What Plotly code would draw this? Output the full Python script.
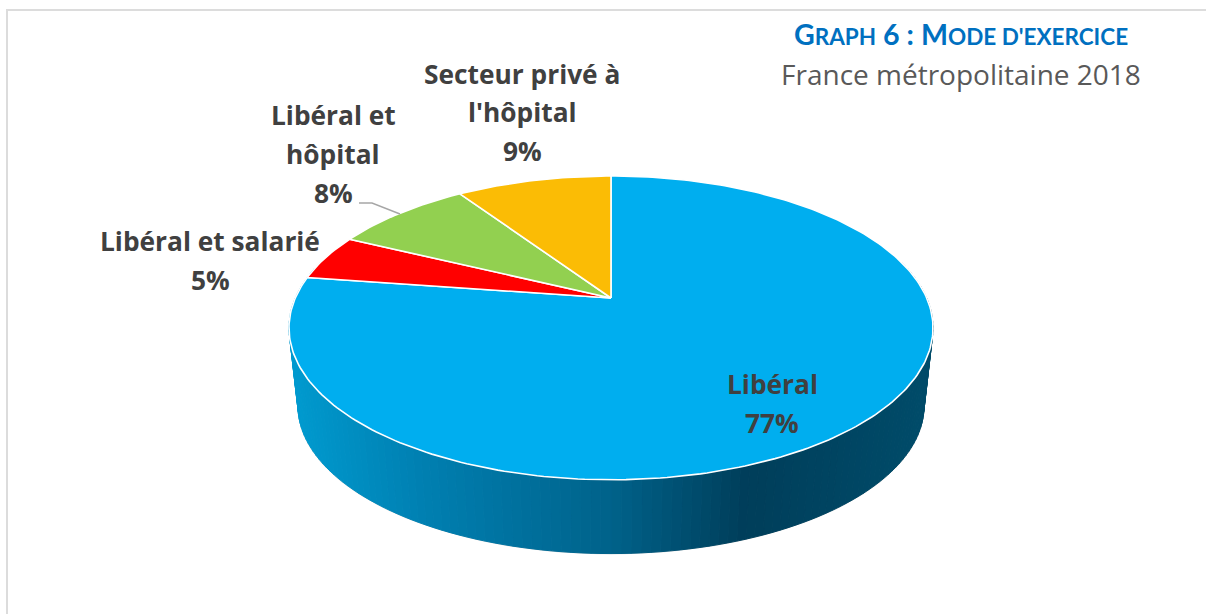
import numpy as np
import plotly.graph_objects as go

# ---- data ----
categories = ["Libéral", "Libéral et salarié", "Libéral et hôpital", "Secteur privé à l'hôpital"]
values = [77.3, 4.9, 8.4, 9.4]
slice_colors = ["#00AEEF", "#FF0000", "#92D050", "#FBBC05"]
title_text = "G<span style='font-size:22.5px'>RAPH</span> 6 : M<span style='font-size:22.5px'>ODE D'EXERCICE</span>"
subtitle_text = "France métropolitaine 2018"

# ---- projection of the tilted disc onto the page ----
CX, APEX_Y = 611.0, 298.0
A, B, K = 315.7, 146.0, 0.197
DEPTH_SCALE, DEPTH_SHIFT = 0.972, 78.0
ELL_Y = 328.0


def project(angle_deg, lower=False):
    a = np.radians(angle_deg)
    u, v = np.sin(a), np.cos(a)
    d = 1 + K * v
    x = CX + A * u / d
    y = APEX_Y - B * v / d
    if lower:
        x = CX + (x - CX) * DEPTH_SCALE
        y = ELL_Y + (y - ELL_Y) * DEPTH_SCALE + DEPTH_SHIFT
    return x, y


GRAD_STOPS = [(289, (0, 155, 208)), (420, (0, 128, 178)), (611, (0, 98, 138)),
              (745, (0, 62, 90)), (933, (0, 76, 106))]


def side_color(x):
    xs = [s[0] for s in GRAD_STOPS]
    rgb = [np.interp(x, xs, [s[1][i] for s in GRAD_STOPS]) for i in range(3)]
    return "rgb({:.0f},{:.0f},{:.0f})".format(*rgb)


fig = go.Figure()


def poly(xs, ys, fill, line_color=None, width=1.0, closed=True):
    fig.add_trace(go.Scatter(
        x=xs, y=ys, mode="lines", fill="toself" if closed else None,
        fillcolor=fill, line=dict(color=line_color or fill, width=width),
        hoverinfo="skip", showlegend=False))


# faint outer rim of the body
ring = np.arange(0, 361, 2.0)
bx, by = project(ring, lower=True)
poly(bx.tolist(), by.tolist(), "#DADADA", "#DADADA", 1.6)

# side wall, built as thin facets between the upper and lower rim
edges = np.arange(75, 285.01, 1.5)
for a0, a1 in zip(edges[:-1], edges[1:]):
    x0, y0 = project(a0)
    x1, y1 = project(a1)
    x2, y2 = project(a1, lower=True)
    x3, y3 = project(a0, lower=True)
    poly([x0, x1, x2, x3, x0], [y0, y1, y2, y3, y0], side_color((x0 + x1 + x2 + x3) / 4), width=1.0)

# top face, one wedge per value
total = sum(values)
start = 0.0
for val, col in zip(values, slice_colors):
    sweep = val / total * 360
    arc = np.linspace(start, start + sweep, max(int(sweep), 12))
    ax, ay = project(arc)
    xs = [CX] + ax.tolist() + [CX]
    ys = [APEX_Y] + ay.tolist() + [APEX_Y]
    poly(xs, ys, col, "#FFFFFF", 1.6)
    start += sweep

# leader line for the "Libéral et hôpital" label
fig.add_trace(go.Scatter(x=[359, 372, 400], y=[203, 203, 214], mode="lines",
                         line=dict(color="#A6A6A6", width=1.4), hoverinfo="skip", showlegend=False))

LABEL_FONT = dict(family="Open Sans", size=26.3, color="#404040")
pct = [f"{round(v)}%" for v in values]


def label(x, y, text, font=LABEL_FONT):
    fig.add_annotation(x=x, y=y, text=f"<b>{text}</b>", showarrow=False, xanchor="center", yanchor="middle",
                       font=font, xref="x", yref="y")


label(772, 384, categories[0])
label(772, 423, pct[0])
label(210, 241, categories[1])
label(210, 280, pct[1])
label(333, 115, "Libéral et")
label(333, 154, "hôpital")
label(333, 193, pct[2])
label(522, 74, "Secteur privé à")
label(522, 112, "l'hôpital")
label(522, 151, pct[3])

fig.add_annotation(x=960.5, y=34, text=f"<b>{title_text}</b>", showarrow=False, xanchor="center", yanchor="middle",
                   font=dict(family="Lato", size=28.6, color="#0070C0"))
fig.add_annotation(x=960.5, y=74, text=subtitle_text, showarrow=False, xanchor="center", yanchor="middle",
                   font=dict(family="Open Sans", size=28, color="#595959"))

fig.add_shape(type="rect", x0=7, y0=10, x1=1215, y1=625, line=dict(color="#DCDCDC", width=2), layer="below")

fig.update_layout(
    width=1206, height=614, margin=dict(l=0, r=0, t=0, b=0),
    paper_bgcolor="white", plot_bgcolor="white", showlegend=False,
    xaxis=dict(range=[0, 1206], visible=False, fixedrange=True),
    yaxis=dict(range=[614, 0], visible=False, fixedrange=True),
)
fig.write_html("out.html", config={"displayModeBar": False},
               post_script="document.body.style.margin='0';document.body.style.overflow='hidden';")
